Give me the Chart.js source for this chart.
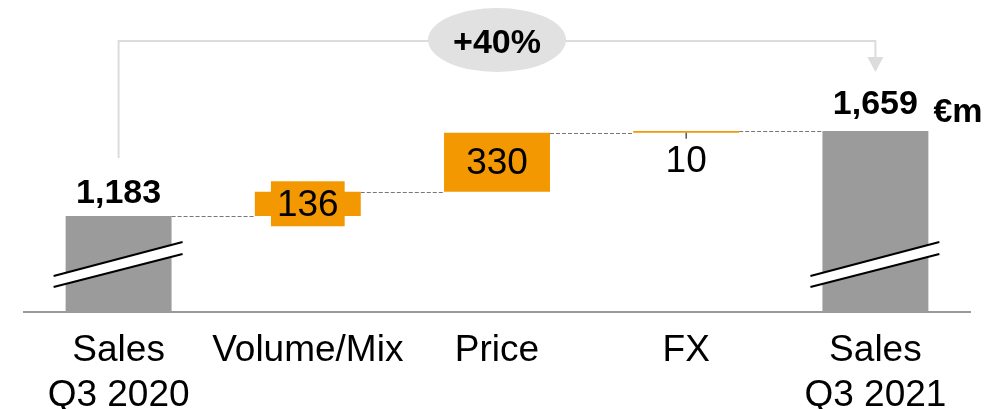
<!DOCTYPE html>
<html>
<head>
<meta charset="utf-8">
<script src="https://cdn.jsdelivr.net/npm/chart.js@4.4.1/dist/chart.umd.min.js"></script>
<style>
  html, body { margin: 0; padding: 0; background: #fff; }
  #wrap { width: 1006px; height: 409px; position: relative; }
</style>
</head>
<body>
<div id="wrap"><canvas id="bridge"></canvas></div>
<script>
// sales bridge Q3 2020 -> Q3 2021
const categories = [['Sales', 'Q3 2020'], 'Volume/Mix', 'Price', 'FX', ['Sales', 'Q3 2021']];
const startSales = 1183;
const deltas = [136, 330, 10];
const endSales = 1659;
const unitLabel = '€m';
const axisFloor = 645;   // axis is broken, gray bars start here
const axisCeil = 2392;

const GRAY = '#9b9b9b';
const ORANGE = '#f39800';
const FONT = "'Liberation Sans', Arial, sans-serif";

// floating bars [from, to]
let run = startSales;
const floating = [[axisFloor, startSales]];
deltas.forEach(d => { floating.push([run, run + d]); run += d; });
floating.push([axisFloor, endSales]);
const barColors = floating.map((_, i) => (i === 0 || i === floating.length - 1) ? GRAY : ORANGE);

const fmt = v => v.toLocaleString('en-US');

const bridgeDeco = {
  id: 'bridgeDeco',
  afterDatasetsDraw(chart) {
    const ctx = chart.ctx;
    const bars = chart.getDatasetMeta(0).data;
    const ys = chart.scales.y;
    const base = chart.chartArea.bottom;
    const edges = bars.map(b => ({ l: b.x - b.width / 2, r: b.x + b.width / 2 }));
    ctx.save();

    // dashed connectors
    ctx.strokeStyle = '#777';
    ctx.lineWidth = 1;
    ctx.setLineDash([4, 2]);
    let level = startSales;
    for (let i = 0; i < bars.length - 1; i++) {
      if (i > 0) level += deltas[i - 1];
      const y = Math.round(ys.getPixelForValue(level)) + 0.5;
      ctx.beginPath();
      ctx.moveTo(edges[i].r, y);
      ctx.lineTo(edges[i + 1].l, y);
      ctx.stroke();
    }
    ctx.setLineDash([]);

    // axis break marks on the two totals
    [0, bars.length - 1].forEach(i => {
      const l = edges[i].l - 12, r = edges[i].r + 11;
      ctx.fillStyle = '#fff';
      ctx.beginPath();
      ctx.moveTo(l, base - 36);
      ctx.lineTo(r, base - 70);
      ctx.lineTo(r, base - 58);
      ctx.lineTo(l, base - 25);
      ctx.closePath();
      ctx.fill();
      ctx.strokeStyle = '#000';
      ctx.lineWidth = 2;
      ctx.beginPath();
      ctx.moveTo(l, base - 36); ctx.lineTo(r, base - 70);
      ctx.moveTo(l, base - 25); ctx.lineTo(r, base - 58);
      ctx.stroke();
    });

    // delta labels
    ctx.textAlign = 'center';
    ctx.textBaseline = 'middle';
    ctx.font = '37px ' + FONT;
    deltas.forEach((d, k) => {
      const b = bars[k + 1];
      const txt = String(d);
      const h = Math.abs(b.base - b.y);
      const cy = (b.y + b.base) / 2;
      if (h < 10) {
        // too thin: tick + label below
        ctx.strokeStyle = '#555';
        ctx.lineWidth = 1.5;
        ctx.beginPath();
        ctx.moveTo(b.x, b.base);
        ctx.lineTo(b.x, b.base + 6);
        ctx.stroke();
        ctx.fillStyle = '#000';
        ctx.fillText(txt, b.x, b.base + 29);
        return;
      }
      if (h < 40) {
        const w = ctx.measureText(txt).width + 12;
        ctx.fillStyle = ORANGE;
        ctx.fillRect(b.x - w / 2, cy - 22.5, w, 45);
      }
      ctx.fillStyle = '#000';
      ctx.fillText(txt, b.x, cy + 2);
    });

    // totals
    ctx.font = 'bold 34px ' + FONT;
    ctx.fillStyle = '#000';
    const b0 = bars[0], bN = bars[bars.length - 1];
    ctx.fillText(fmt(startSales), b0.x, b0.y - 22);
    ctx.fillText(fmt(endSales), bN.x, bN.y - 26);
    ctx.textAlign = 'left';
    ctx.fillText(unitLabel, edges[bars.length - 1].r + 5, bN.y - 18);

    // growth bracket
    const topY = 41;
    const midX = (b0.x + bN.x) / 2;
    ctx.strokeStyle = '#dcdcdc';
    ctx.lineWidth = 2;
    ctx.beginPath();
    ctx.moveTo(b0.x, b0.y - 58);
    ctx.lineTo(b0.x, topY);
    ctx.lineTo(bN.x, topY);
    ctx.lineTo(bN.x, 58);
    ctx.stroke();
    ctx.fillStyle = '#dcdcdc';
    ctx.beginPath();
    ctx.moveTo(bN.x - 8, 57);
    ctx.lineTo(bN.x + 8, 57);
    ctx.lineTo(bN.x, 72);
    ctx.closePath();
    ctx.fill();

    ctx.fillStyle = '#e1e1e1';
    ctx.beginPath();
    ctx.ellipse(midX, 40, 69, 32, 0, 0, Math.PI * 2);
    ctx.fill();
    const pct = Math.round((endSales / startSales - 1) * 100);
    ctx.fillStyle = '#000';
    ctx.textAlign = 'center';
    ctx.font = 'bold 34px ' + FONT;
    ctx.fillText('+' + pct + '%', midX, 44);
    ctx.restore();
  }
};

new Chart(document.getElementById('bridge'), {
  type: 'bar',
  data: {
    labels: categories,
    datasets: [{
      data: floating,
      backgroundColor: barColors,
      borderWidth: 0,
      borderSkipped: false,
      categoryPercentage: 1,
      barPercentage: 0.56
    }]
  },
  options: {
    responsive: true,
    maintainAspectRatio: false,
    animation: false,
    layout: { padding: { left: 24, right: 36, top: 0, bottom: 0 } },
    plugins: { legend: { display: false }, tooltip: { enabled: false } },
    scales: {
      x: {
        grid: { display: false, drawTicks: false },
        border: { display: true, color: '#999', width: 2 },
        ticks: {
          color: '#000',
          padding: 16,
          maxRotation: 0,
          autoSkip: false,
          font: { family: FONT, size: 37, lineHeight: 1.22 }
        },
        afterFit: s => { s.height = 97; }
      },
      y: { display: false, min: axisFloor, max: axisCeil }
    }
  },
  plugins: [bridgeDeco]
});
</script>
</body>
</html>
